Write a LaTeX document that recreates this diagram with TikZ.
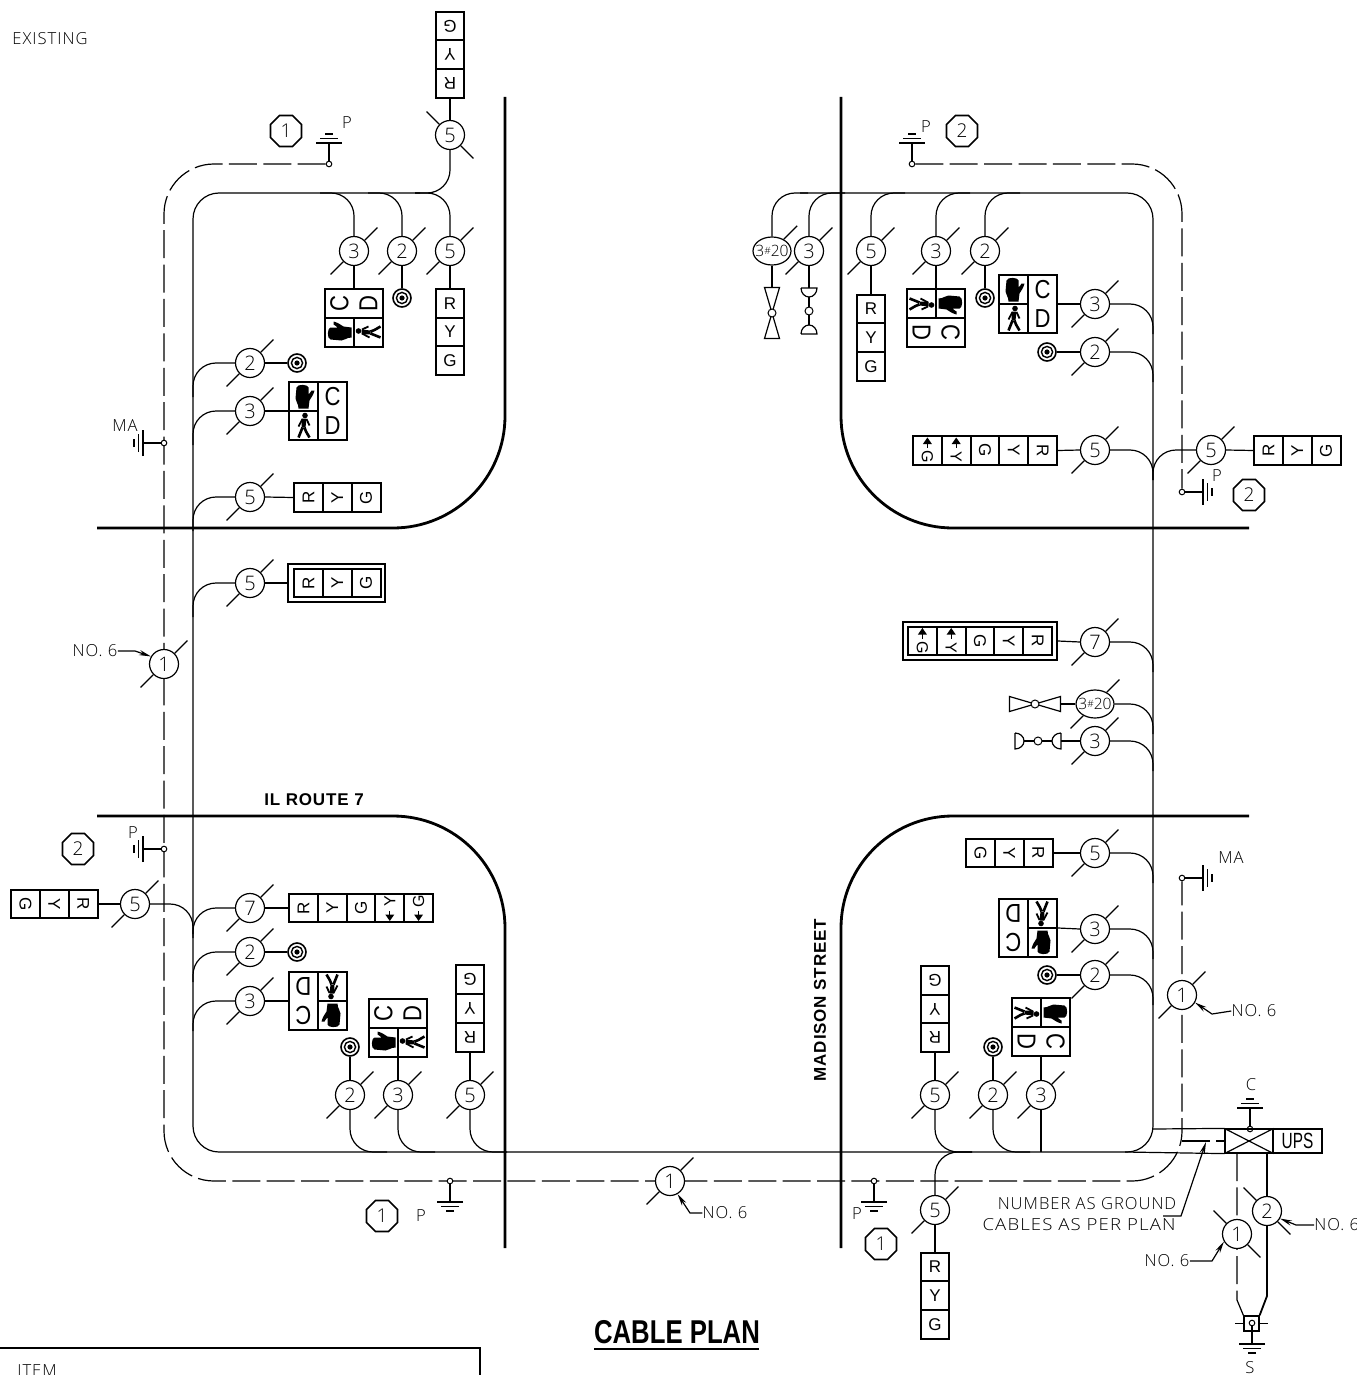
\documentclass[tikz,border=0pt]{standalone}
\usepackage{graphicx}
\usepackage{fontspec}
\setmainfont{Open Sans}[UprightFont=* Light,BoldFont=Liberation Sans Bold]
\newfontfamily\cellf{Liberation Sans}
\newfontfamily\spaced[LetterSpace=6,UprightFont=* Light]{Open Sans}
\newfontfamily\spacedb[LetterSpace=5]{Liberation Sans Bold}
\usetikzlibrary{shapes.geometric,arrows.meta,backgrounds,calc}
\tikzset{
  wire/.style={line width=0.6pt},
  road/.style={line width=1.4pt},
  dashw/.style={line width=0.6pt,dash pattern=on 14pt off 3.2pt},
  branch/.style={line width=0.6pt,rounded corners=11.5pt},
  leader/.style={line width=0.6pt,-{Stealth[length=6pt,width=2.6pt]}},
  cablec/.style={circle,draw,fill=white,line width=0.6pt,minimum size=14.5pt,inner sep=0pt,font=\fontsize{10}{10}\selectfont},
  cablee/.style={ellipse,draw,fill=white,line width=0.6pt,minimum width=19pt,minimum height=14pt,inner sep=-2pt,font=\fontsize{7.8}{7.8}\selectfont},
  cell/.style={rectangle,draw,fill=white,line width=1pt,minimum width=14.4pt,minimum height=14.4pt,inner sep=0pt,font=\cellf\fontsize{8.5}{8.5}\selectfont},
  pedbox/.style={rectangle,draw,fill=white,line width=1pt,minimum width=29pt,minimum height=29pt,inner sep=0pt},
  pedtxt/.style={inner sep=0pt,font=\cellf\fontsize{13}{13}\selectfont,transform shape},
  frame/.style={rectangle,draw,line width=1pt,inner sep=0pt},
  targ/.style={circle,draw,fill=white,line width=0.8pt,minimum size=9pt,inner sep=0pt},
  pin/.style={circle,draw,fill=white,line width=0.5pt,minimum size=2.8pt,inner sep=0pt},
  octa/.style={regular polygon,regular polygon sides=8,draw,line width=0.8pt,minimum size=16.8pt,inner sep=0pt,font=\fontsize{9.5}{9.5}\selectfont},
  lbl/.style={inner sep=0pt,font=\spaced\fontsize{8.3}{8.3}\selectfont},
  note/.style={inner sep=0pt,font=\spaced\fontsize{8.3}{8.3}\selectfont},
  boldlbl/.style={inner sep=0pt,font=\spacedb\fontsize{8.5}{8.5}\selectfont},
}
\newcommand\cableNE[5][cablec]{\node[#1] (#2) at (#3,#4) {#5};
  \draw[wire] (#2.45) -- ++(-45:18); \draw[wire] (#2.225) -- ++(135:18);}
\newcommand\cableNW[5][cablec]{\node[#1] (#2) at (#3,#4) {#5};
  \draw[wire] (#2.135) -- ++(-135:18); \draw[wire] (#2.315) -- ++(45:18);}
\newcommand\stack[7]{\foreach \t [count=\i] in {#7} {%
  \node[cell] (#1-\i) at ({#2+(\i-1)*#4},{#3+(\i-1)*#5}) {\rotatebox{#6}{\t}};}}
\newcommand\amark[6]{% name, x, y, letter, rotation, arrow side (-1 up / 1 down)
  \node[inner sep=0pt,font=\cellf\fontsize{8}{8}\selectfont] (#1) at (#2,{#3-#6*6.5}) {\rotatebox{#5}{#4}};
  \fill (#2,{#3+#6*13}) -- ({#2-4.5},{#3+#6*6.5}) -- ({#2+4.5},{#3+#6*6.5}) -- cycle;
  \draw[wire] (#2,{#3+#6*7}) -- (#2,{#3+#6*2.5});}
\newcommand\handglyph{\fill (-5,12) -- (5,12) -- (6,4) .. controls (8,1) and (10,-2) .. (11,-6) -- (8,-6) .. controls (7,-4) and (6,-3) .. (5,-2) -- (5,-9) .. controls (5,-12) and (-6,-13) .. (-7,-9) -- (-8,2) .. controls (-8,5) and (-5,7) .. (-5,12) -- cycle;}
\newcommand\personglyph{\fill (1.5,-10) circle (2.8);
  \fill (-1.5,-7) -- (3,-7) -- (2,2) -- (-2,2) -- cycle;
  \draw[line width=0.9pt] (-1,-6.5) -- (-5,1) (3,-6.5) -- (6,0);
  \draw[line width=1.3pt] (-1,2) -- (-5,12) (1,2) -- (2.5,6) -- (6,12);}
\newcommand\ped[4]{\node[pedbox] (#1) at (#2,#3) {};
  \begin{scope}[shift={(#2,#3)},rotate=#4]
    \draw[line width=1pt] (0,-29) -- (0,29);
    \draw[line width=1pt] (-29,0) -- (0,0);
    \node[pedtxt] (#1-c) at (14.5,-14.5) {\scalebox{0.85}[1]{C}};
    \node[pedtxt] (#1-d) at (14.5,14.5) {\scalebox{0.85}[1]{D}};
    \begin{scope}[shift={(-14.5,-14.5)}]\handglyph\end{scope}
    \begin{scope}[shift={(-14.5,14.5)}]\personglyph\end{scope}
  \end{scope}}
\newcommand\target[3]{\node[targ] (#1) at (#2,#3) {};
  \draw[line width=0.7pt] (#1) circle (5.6);
  \fill (#1) circle (2.6);}
\newcommand\gnd[4]{\node[pin] (#1) at (#2,#3) {};
  \begin{scope}[shift={(#2,#3)},rotate=#4]
    \draw[wire] (0,-2.8) -- (0,-21) (-13,-21) -- (13,-21) (-9,-25.5) -- (9,-25.5) (-4,-30) -- (4,-30);
  \end{scope}}
\newcommand\bowt[4]{%
  \begin{scope}[shift={(#2,#3)},rotate=#4]
    \coordinate (#1-n) at (0,-25.5);
    \draw[wire] (-7.5,-25.5) -- (7.5,-25.5) -- (0,0) -- cycle;
    \draw[wire] (-7.5,25.5) -- (7.5,25.5) -- (0,0) -- cycle;
  \end{scope}
  \node[pin,minimum size=4pt] (#1) at (#2,#3) {};}
\newcommand\bell[4]{\node[pin,minimum size=4pt] (#1) at (#2,#3) {};
  \begin{scope}[shift={(#2,#3)},rotate=#4]
    \coordinate (#1-n) at (0,-23);
    \draw[wire] (-8,-23) -- (8,-23) arc (0:180:8 and 9);
    \draw[wire] (-8,23) -- (8,23) arc (0:-180:8 and 9);
    \draw[wire] (0,-14) -- (0,-4) (0,4) -- (0,14);
  \end{scope}}
\begin{document}
\begin{tikzpicture}[x=0.5pt,y=-0.5pt]
\useasboundingbox (0,0) rectangle (1356,1375);
\clip (0,0) rectangle (1356,1375);

% labels
\node[lbl] (exist) at (50,39) {EXISTING};
\node[boldlbl] (ilr) at (314,800) {IL ROUTE 7};
\node[boldlbl,rotate=90] (mad) at (820,1000) {MADISON STREET};
\node[inner sep=0.6pt,font=\bfseries\fontsize{16.5}{16.5}\selectfont] (title) at (677,1332) {\scalebox{0.78}[1]{CABLE PLAN}};
\draw[line width=1pt] (594,1349) -- (759,1349);
\node[note] (num1) at (1087,1204) {NUMBER AS GROUND};
\node[note] (num2) at (1079,1225) {\scalebox{1.12}[1]{CABLES AS PER PLAN}};
\node[lbl] (item) at (37,1371) {ITEM};
\draw[line width=0.8pt] (0,1348) -- (480,1348) -- (480,1375);

% octagons
\node[octa] (o1) at (286,131) {1};
\node[octa] (o2) at (962,131) {2};
\node[octa] (o3) at (1249,495) {2};
\node[octa] (o4) at (78,849) {2};
\node[octa] (o5) at (382,1216) {1};
\node[octa] (o6) at (881,1244) {1};

% grounds
\gnd{g1}{329}{164}{0}   \node[lbl] (g1t) at (347,123) {P};
\gnd{g2}{912}{164}{0}   \node[lbl] (g2t) at (926,127) {P};
\gnd{g3}{1182}{492}{-90}\node[lbl] (g3t) at (1217,476) {P};
\gnd{g4}{164}{443}{90}  \node[lbl] (g4t) at (125,426) {MA};
\gnd{g5}{164}{849}{90}  \node[lbl] (g5t) at (133,833) {P};
\gnd{g6}{450}{1181}{180}\node[lbl] (g6t) at (421,1216) {P};
\gnd{g7}{874}{1181}{180}\node[lbl] (g7t) at (857,1214) {P};
\gnd{g8}{1182}{878}{-90}\node[lbl] (g8t) at (1231,858) {MA};
\gnd{g9}{1250}{1129}{0} \node[lbl] (g9t) at (1251,1085) {C};
\gnd{g10}{1252}{1323}{180}\node[lbl] (g10t) at (1250,1368) {S};

% top left
\cableNW{a1}{450}{135}{5}
\stack{s1}{450}{26}{0}{28.6}{180}{G,Y,R}
\cableNE{a2}{354}{251}{3}
\ped{p1}{354}{318}{90}
\cableNE{a3}{402}{251}{2}
\target{t1}{402}{298}
\cableNE{a4}{450}{251}{5}
\stack{s2}{450}{303.5}{0}{28.6}{0}{R,Y,G}
\cableNE{a5}{250}{363}{2}
\target{t2}{297}{363}
\cableNE{a6}{250}{411}{3}
\ped{p2}{318}{411}{0}
\cableNE{a7}{250}{497}{5}
\stack{s3}{308.5}{497.5}{28.8}{0}{90}{R,Y,G}
\cableNE{a8}{250}{583}{5}
\stack{s4}{308.5}{583}{28.8}{0}{90}{R,Y,G}
\node[frame,minimum width=48.5pt,minimum height=19pt] (f1) at (336.5,583) {};
\cableNE{n1}{164}{664}{1}

% top right
\node[cablee] (b1) at (772,251) {3{\fontsize{5}{5}\selectfont\raisebox{1pt}{\#}}20};
\draw[wire] (b1.45) -- ++(-45:19);
\cableNE{b2}{809}{251}{3}
\bowt{bt1}{772}{313}{0}
\bell{be1}{809}{311}{0}
\cableNE{b3}{871}{251}{5}
\stack{s5}{871}{309}{0}{28.6}{0}{R,Y,G}
\cableNE{b4}{936}{251}{3}
\ped{p3}{936}{318}{-90}
\cableNE{b5}{985}{251}{2}
\target{t3}{985}{298}
\ped{p4}{1028}{304}{0}
\cableNE{b6}{1095}{304}{3}
\cableNE{b7}{1095}{352}{2}
\target{t4}{1047}{352}
\cableNE{b8}{1095}{450}{5}
\stack{s6}{927.4}{450.5}{28.8}{0}{-90}{{},{},G,Y,R}
\amark{m1}{927.4}{450.5}{G}{-90}{-1}
\amark{m2}{956.2}{450.5}{Y}{-90}{-1}
\cableNE{b9}{1211}{450}{5}
\stack{s7}{1268.5}{450.5}{28.8}{0}{90}{R,Y,G}

% right middle
\cableNE{c1}{1095}{642}{7}
\stack{s8}{922.4}{641}{28.8}{0}{-90}{{},{},G,Y,R}
\amark{m3}{922.4}{641}{G}{-90}{-1}
\amark{m4}{951.2}{641}{Y}{-90}{-1}
\node[frame,minimum width=77pt,minimum height=19pt] (f2) at (980,641) {};
\cableNE[cablee]{c2}{1095}{704}{3{\fontsize{5}{5}\selectfont\raisebox{1pt}{\#}}20}
\bowt{bt2}{1035}{704}{-90}
\cableNE{c3}{1095}{741}{3}
\bell{be2}{1038}{741}{-90}

% bottom right
\cableNE{d1}{1095}{853}{5}
\stack{s9}{980.5}{853}{28.8}{0}{-90}{G,Y,R}
\cableNE{d2}{1095}{929}{3}
\ped{p5}{1028}{928}{180}
\cableNE{d3}{1095}{975}{2}
\target{t5}{1047}{975}
\ped{p6}{1041}{1027}{-90}
\cableNE{d4}{1041}{1095}{3}
\cableNE{d5}{993}{1095}{2}
\target{t6}{993}{1047}
\cableNE{d6}{935}{1095}{5}
\stack{s10}{935}{980.5}{0}{28.6}{180}{G,Y,R}
\cableNE{d7}{935}{1210}{5}
\stack{s11}{935}{1267}{0}{28.8}{0}{R,Y,G}
\cableNE{n2}{1182}{995}{1}
\cableNE{n3}{670}{1181}{1}
\cableNW{n4}{1237}{1234}{1}
\cableNW{n5}{1267}{1211}{2}

% bottom left
\cableNE{e1}{135}{904}{5}
\stack{s12}{25.5}{904}{28.8}{0}{-90}{G,Y,R}
\cableNE{e2}{250}{908}{7}
\stack{s13}{303.4}{908}{28.8}{0}{90}{R,Y,G,{},{}}
\amark{m5}{389.8}{908}{Y}{90}{1}
\amark{m6}{418.6}{908}{G}{90}{1}
\cableNE{e3}{250}{952}{2}
\target{t7}{297}{952}
\cableNE{e4}{250}{1001}{3}
\ped{p7}{318}{1001}{180}
\cableNE{e5}{350}{1095}{2}
\target{t8}{350}{1047}
\cableNE{e6}{398}{1095}{3}
\ped{p8}{398}{1028}{90}
\cableNE{e7}{470}{1095}{5}
\stack{s14}{470}{979.5}{0}{28.8}{180}{G,Y,R}

% UPS
\node[rectangle,draw,line width=0.6pt,minimum width=24pt,minimum height=12pt,inner sep=0pt] (xb) at (1249,1141) {};
\draw[wire] (xb.north west) -- (xb.south east) (xb.north east) -- (xb.south west);
\node[rectangle,draw,line width=1pt,minimum width=24.5pt,minimum height=12pt,inner sep=0pt,font=\cellf\fontsize{11}{11}\selectfont] (ups) at (1297.5,1141) {\scalebox{0.7}[1]{UPS}};
\node[rectangle,draw,line width=0.6pt,minimum size=7.5pt,inner sep=0pt] (sq) at (1251.5,1323.5) {};
\draw[wire] (sq.west) -- ++(-8,0) (sq.east) -- ++(8,0);
\coordinate (solidB) at (1267,1296);
\coordinate (dashB) at (1237,1300);

% leader texts
\node[lbl] (l1) at (95,651) {NO. 6};
\node[lbl] (l2) at (725,1213) {NO. 6};
\node[lbl] (l3) at (1254,1011) {NO. 6};
\node[lbl,anchor=west] (l4) at (1314,1225) {NO. 6};
\node[lbl] (l5) at (1167,1261) {NO. 6};
\draw[leader] (l1.east) -- (135,651) -- (n1.150);
\draw[leader] (l2.west) -- (690,1213) -- (n3.300);
\draw[leader] (l3.west) -- (1212,1014) -- (n2.330);
\draw[leader] (l4.west) -- (1296,1225) -- (n5.330);
\draw[leader] (l5.east) -- (1212,1261) -- (n4.210);
\coordinate (numa) at (1163,1216);
\coordinate (numb) at (1206,1142);
\draw[leader] (numa) -- (1181,1216) -- (numb);

\begin{scope}[on background layer]
  % roads
  \draw[road,rounded corners=56pt] (505,97) -- (505,528) -- (97,528);
  \draw[road,rounded corners=56pt] (97,816) -- (505,816) -- (505,1248);
  \draw[road,rounded corners=56pt] (841,97) -- (841,528) -- (1249,528);
  \draw[road,rounded corners=56pt] (1249,816) -- (841,816) -- (841,1248);
  % grounding loop
  \draw[dashw,rounded corners=25pt] (g1) -- (164,164) -- (164,1181) -- (1182,1181) -- (g8);
  \draw[dashw,rounded corners=25pt] (g2) -- (1182,164) -- (g3);
  \draw[dashw] (1182,1141) -- (xb.west);
  \draw[dashw] (1237,1153) -- (dashB) -- (sq.north west);
  % main cable
  \draw[wire,rounded corners=13pt] (420,193) -- (193,193) -- (193,1152) -- (1153,1152) -- (1153,193) -- (800,193);
  \draw[wire] (1153,1129) -- (xb.north west);
  \draw[wire] (1125,1152) -- (xb.south west);
  \draw[line width=0.9pt] (1267,1153) -- (solidB) -- (sq.north east);
  % top-left connectors
  \draw[wire] (a1.north) -- (s1-3.south);
  \draw[branch] (a1.south) |- (415,193);
  \draw[branch] (a2.north) |- (320,193);
  \draw[branch] (a3.north) |- (368,193);
  \draw[branch] (a4.north) |- (415,193);
  \draw[wire] (a2.south) -- (p1.north);
  \draw[wire] (a3.south) -- (t1.north);
  \draw[wire] (a4.south) -- (s2-1.north);
  \draw[branch] (a5.west) -| (193,397);
  \draw[branch] (a6.west) -| (193,445);
  \draw[branch] (a7.west) -| (193,531);
  \draw[branch] (a8.west) -| (193,617);
  \draw[wire] (a5.east) -- (t2.west);
  \draw[wire] (a6.east) -- (p2.west);
  \draw[wire] (a7.east) -- (s3-1.west);
  \draw[wire] (a8.east) -- (f1.west);
  % top-right connectors
  \draw[branch] (b1.north) |- (808,193);
  \draw[branch] (b2.north) |- (845,193);
  \draw[branch] (b3.north) |- (905,193);
  \draw[branch] (b4.north) |- (970,193);
  \draw[branch] (b5.north) |- (1020,193);
  \draw[wire] (b1.south) -- (bt1-n);
  \draw[wire] (b2.south) -- (be1-n);
  \draw[wire] (b3.south) -- (s5-1.north);
  \draw[wire] (b4.south) -- (p3.north);
  \draw[wire] (b5.south) -- (t3.north);
  \draw[wire] (b6.west) -- (p4.east);
  \draw[wire] (b7.west) -- (t4.east);
  \draw[wire] (b8.west) -- (s6-5.east);
  \draw[wire] (b9.east) -- (s7-1.west);
  \draw[branch] (b6.east) -| (1153,334);
  \draw[branch] (b7.east) -| (1153,382);
  \draw[branch] (b8.east) -| (1153,480);
  \draw[branch] (b9.west) -| (1153,480);
  % right-middle connectors
  \draw[wire] (c1.west) -- (f2.east);
  \draw[wire] (c2.west) -- (bt2-n);
  \draw[wire] (c3.west) -- (be2-n);
  \draw[branch] (c1.east) -| (1153,672);
  \draw[branch] (c2.east) -| (1153,734);
  \draw[branch] (c3.east) -| (1153,771);
  % bottom-right connectors
  \draw[wire] (d1.west) -- (s9-3.east);
  \draw[wire] (d2.west) -- (p5.east);
  \draw[wire] (d3.west) -- (t5.east);
  \draw[wire] (d4.north) -- (p6.south);
  \draw[wire] (d5.north) -- (t6.south);
  \draw[wire] (d6.north) -- (s10-3.south);
  \draw[wire] (d7.south) -- (s11-1.north);
  \draw[branch] (d1.east) -| (1153,883);
  \draw[branch] (d2.east) -| (1153,959);
  \draw[branch] (d3.east) -| (1153,1005);
  \draw[wire] (d4.south) -- (1041,1152);
  \draw[branch] (d5.south) |- (1030,1152);
  \draw[branch] (d6.south) |- (972,1152);
  \draw[branch] (d7.north) |- (972,1152);
  % bottom-left connectors
  \draw[wire] (e1.west) -- (s12-3.east);
  \draw[branch] (e1.east) -| (193,934);
  \draw[branch] (e2.west) -| (193,938);
  \draw[branch] (e3.west) -| (193,982);
  \draw[branch] (e4.west) -| (193,1031);
  \draw[wire] (e2.east) -- (s13-1.west);
  \draw[wire] (e3.east) -- (t7.west);
  \draw[wire] (e4.east) -- (p7.west);
  \draw[wire] (e5.north) -- (t8.south);
  \draw[wire] (e6.north) -- (p8.south);
  \draw[wire] (e7.north) -- (s14-3.south);
  \draw[branch] (e5.south) |- (387,1152);
  \draw[branch] (e6.south) |- (435,1152);
  \draw[branch] (e7.south) |- (507,1152);
\end{scope}
\end{tikzpicture}
\end{document}
